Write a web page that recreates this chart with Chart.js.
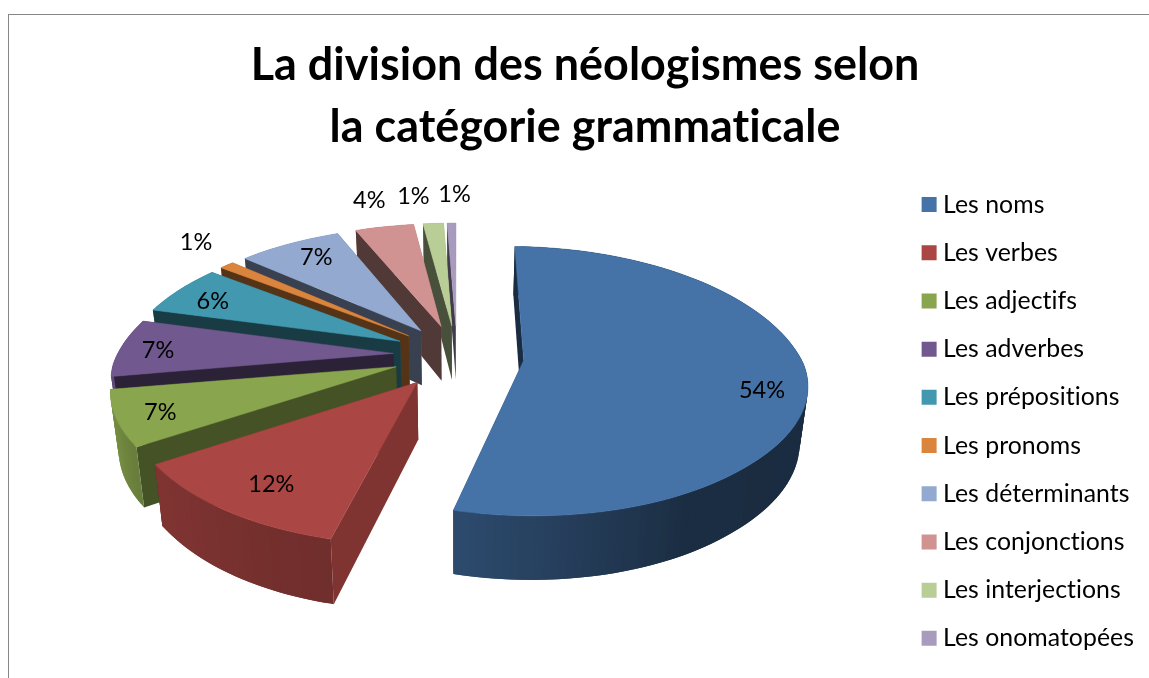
<!DOCTYPE html>
<html><head><meta charset="utf-8">
<script src="https://cdn.jsdelivr.net/npm/chart.js@4"></script>
<style>
html,body{margin:0;padding:0;background:#fff;overflow:hidden}
#frame{position:absolute;left:8px;top:14px;width:1141px;height:664px;border-left:1px solid #868686;border-top:1px solid #868686;box-sizing:border-box}
canvas{position:absolute;left:0;top:0}
</style></head><body>
<div id="frame"></div>
<canvas id="c" width="1149" height="678"></canvas>
<script>
const titleLines = ['La division des néologismes selon', 'la catégorie grammaticale'];
const categories = ['Les noms','Les verbes','Les adjectifs','Les adverbes','Les prépositions','Les pronoms','Les déterminants','Les conjonctions','Les interjections','Les onomatopées'];
const percentages = [54,12,7,7,6,1,7,4,1.4,0.6];
const colors = ['#4572A7','#AA4643','#89A54E','#71588F','#4198AF','#DB843D','#93A9CF','#D19392','#B9CD96','#A99BBD'];
const explode = [67,66,64,64,66,66,66,66,66,66];
const labelNudges = [[26,13],[-6,9],[-28,7],[-30,2],[-19,0],[-73,-38],[-3,-5],[-28,-48],[-24,-49],[2,-50]];
const view = {x0:457,y0:356,a:.477,b:.000268,Dnear:2300,Dfar:1800,H:56,converge:.024,labelRadius:210,roll:.000064,rollFade:220};
const rimShade = [[90,.38],[150,.40],[190,.65],[237,.76],[250,.85],[360,.85]];

function project(u,v,z){
  const D=v<0?view.Dfar:view.Dnear;
  const s=D/(D-v);
  const roll=view.roll*u*u*(v>0?Math.max(0,1-v/view.rollFade):1);
  return [view.x0+u*s*(1-z*view.converge), view.y0+view.a*v+view.b*v*v+roll+z*view.H*s];
}
function shadeColor(hex,f){
  const n=parseInt(hex.slice(1),16);
  return `rgb(${((n>>16)&255)*f|0},${((n>>8)&255)*f|0},${(n&255)*f|0})`;
}
function rimFactor(deg){
  for(let i=1;i<rimShade.length;i++){
    if(deg<=rimShade[i][0]){
      const [a,fa]=rimShade[i-1],[b,fb]=rimShade[i];
      return deg<a?fa:fa+(fb-fa)*(deg-a)/(b-a);
    }
  }
  return .85;
}
function polygon(ctx,pts,fill,edge){
  ctx.beginPath();
  pts.forEach((p,i)=>i?ctx.lineTo(p[0],p[1]):ctx.moveTo(p[0],p[1]));
  ctx.closePath();
  ctx.fillStyle=fill;
  ctx.fill();
  if(edge){ctx.strokeStyle=fill;ctx.lineWidth=.5;ctx.stroke();}
}
const pie3d={
  id:'pie3d',
  afterInit(chart){chart.ctx.letterSpacing='0.05px';},
  beforeDatasetsDraw(chart){
    const ctx=chart.ctx,arcs=chart.getDatasetMeta(0).data;
    ctx.save();
    for(let i=arcs.length-1;i>=0;i--){
      const el=arcs[i],R=el.outerRadius,off=el.options.offset,col=colors[i];
      const mid=(el.startAngle+el.endAngle)/2;
      const au=off*Math.cos(mid),av=off*Math.sin(mid);
      const n=Math.max(2,Math.ceil((el.endAngle-el.startAngle)/(Math.PI/120)));
      const rim=[];
      for(let k=0;k<=n;k++){
        const t=el.startAngle+(el.endAngle-el.startAngle)*k/n;
        rim.push([au+R*Math.cos(t),av+R*Math.sin(t),t]);
      }
      const walls=[];
      const wall=(p,q,fill,d)=>walls.push({d,poly:[project(p[0],p[1],0),project(q[0],q[1],0),project(q[0],q[1],1),project(p[0],p[1],1)],fill});
      const radial=(p,t,sign)=>{
        const nx=sign*-Math.sin(t);
        const f=.39+.36*Math.pow(Math.max(0,nx),2)/.94;
        wall([au,av],p,shadeColor(col,f),(av+p[1])/2);
      };
      radial(rim[0],rim[0][2],-1);
      radial(rim[n],rim[n][2],1);
      for(let k=0;k<n;k++){
        const t=(rim[k][2]+rim[k+1][2])/2;
        const deg=((t+Math.PI/2)*180/Math.PI+720)%360;
        wall(rim[k],rim[Math.min(n,k+2)],shadeColor(col,rimFactor(deg)),(rim[k][1]+rim[k+1][1])/2);
      }
      walls.sort((p,q)=>p.d-q.d).forEach(w=>polygon(ctx,w.poly,w.fill,false));
      polygon(ctx,[project(au,av,0),...rim.map(p=>project(p[0],p[1],0))],col,true);
    }
    ctx.fillStyle='#000';
    ctx.font='23.5px Lato';
    ctx.textAlign='center';ctx.textBaseline='middle';
    arcs.forEach((el,i)=>{
      const mid=(el.startAngle+el.endAngle)/2,rr=el.options.offset+view.labelRadius;
      const p=project(rr*Math.cos(mid),rr*Math.sin(mid),0);
      ctx.fillText(Math.round(percentages[i])+'%',p[0]+labelNudges[i][0],p[1]+labelNudges[i][1]);
    });
    ctx.restore();
    return false;
  }
};
new Chart(document.getElementById('c'),{
  type:'pie',
  data:{labels:categories,datasets:[{data:percentages,backgroundColor:colors,borderWidth:0,offset:explode,radius:280}]},
  options:{
    responsive:false,animation:false,
    layout:{padding:{left:26,right:5,top:35,bottom:0}},
    plugins:{
      tooltip:{enabled:false},
      title:{display:true,text:titleLines,color:'#000',font:{family:'Lato',size:44.9,weight:'bold',lineHeight:1.38},padding:{top:0,bottom:6}},
      legend:{position:'right',fullSize:false,labels:{
        color:'#000',font:{family:'Lato',size:24.8},boxWidth:3,boxHeight:3,padding:23.4,
        generateLabels(chart){
          return Chart.overrides.pie.plugins.legend.labels.generateLabels(chart).map(l=>Object.assign(l,{lineWidth:12,strokeStyle:l.fillStyle}));
        }
      }}
    }
  },
  plugins:[pie3d]
});
</script>
</body></html>
